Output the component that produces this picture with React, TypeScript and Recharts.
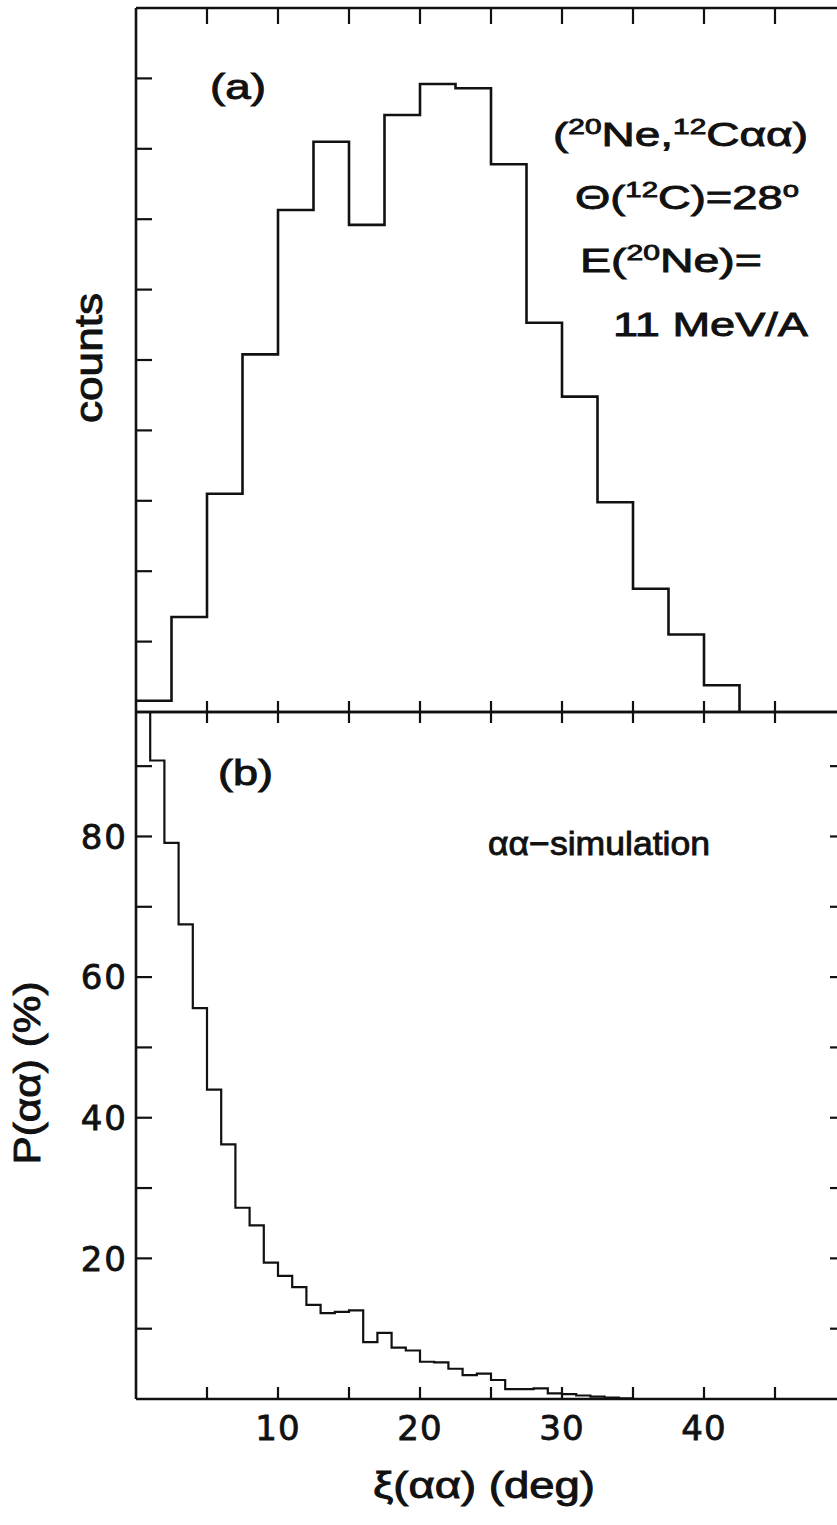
import React from "react";
import { LineChart, Line, XAxis, YAxis } from "recharts";

// (a) coincidence counts, 2.5 deg bins (arbitrary units, one unit per y tick)
const binStartA = [0, 2.5, 5, 7.5, 10, 12.5, 15, 17.5, 20, 22.5, 25, 27.5, 30, 32.5, 35, 37.5, 40, 42.5];
const countsA = [0.16, 1.35, 3.1, 5.08, 7.13, 8.1, 6.92, 8.48, 8.92, 8.86, 7.78, 5.53, 4.48, 2.98, 1.75, 1.1, 0.38, 0];

// (b) simulated alpha-alpha probability in %, 1 deg bins
const binStartB = [
  0, 1, 2, 3, 4, 5, 6, 7, 8, 9, 10, 11, 12, 13, 14, 15, 16, 17,
  18, 19, 20, 21, 22, 23, 24, 25, 26, 27, 28, 29, 30, 31, 32, 33, 34, 35,
];
const probB = [
  100, 90.8, 79.1, 67.5, 55.6, 44.0, 36.2, 27.2, 24.7, 19.4, 17.5, 15.9, 13.4, 12.2, 12.4, 12.6, 8.1, 9.4,
  7.3, 6.9, 5.3, 5.2, 4.3, 3.4, 3.6, 2.7, 1.4, 1.4, 1.5, 0.8, 0.7, 0.5, 0.35, 0.2, 0.1, 0,
];

const xTicks = [5, 10, 15, 20, 25, 30, 35, 40, 45];
const xLabelled = [10, 20, 30, 40];
const countTicks = [1, 2, 3, 4, 5, 6, 7, 8, 9];
const probTicks = [10, 20, 30, 40, 50, 60, 70, 80, 90];
const probLabelled = [20, 40, 60, 80];

const dataA = binStartA.map((x, i) => ({ x, v: countsA[i] }));
const dataB = binStartB.map((x, i) => ({ x, v: probB[i] }));

const INK = "#111";
const FONT = "'Liberation Sans', Arial, sans-serif";
const TICK_FONT = "'DejaVu Sans', sans-serif";

const frame = { stroke: INK, strokeWidth: 2.6 };
const tickLine = { stroke: INK, strokeWidth: 2.2 };

// ticks without a label still need a renderer, otherwise the tick lines vanish too
const NoLabel = () => <g />;

const XTickLabel = (props: any) => {
  const { x, y, payload } = props;
  if (!xLabelled.includes(payload.value)) return <g />;
  return (
    <text x={x} y={y} dy="0.73em" textAnchor="middle" fontSize={34} fontFamily={TICK_FONT}
      fill={INK} stroke={INK} strokeWidth={0.8} letterSpacing={1}>
      {payload.value}
    </text>
  );
};

const YTickLabel = (props: any) => {
  const { x, y, payload } = props;
  if (!probLabelled.includes(payload.value)) return <g />;
  return (
    <text x={x} y={y} dy="0.36em" textAnchor="end" fontSize={34} fontFamily={TICK_FONT}
      fill={INK} stroke={INK} strokeWidth={0.8} letterSpacing={2}>
      {payload.value}
    </text>
  );
};

function PanelA() {
  return (
    <LineChart width={860} height={720} data={dataA} margin={{ top: 7, right: 13, bottom: 7, left: 135 }}>
      <XAxis xAxisId="bottom" dataKey="x" type="number" domain={[0, 50]} ticks={xTicks} interval={0}
        height={1} tickSize={-11} tick={NoLabel} axisLine={frame} tickLine={tickLine} />
      <XAxis xAxisId="top" orientation="top" dataKey="x" type="number" domain={[0, 50]} ticks={xTicks} interval={0}
        height={1} tickSize={-16} tick={NoLabel} axisLine={frame} tickLine={tickLine} />
      <YAxis yAxisId="left" type="number" domain={[0, 10]} ticks={countTicks} interval={0}
        width={1} tickSize={-16} tick={NoLabel} axisLine={frame} tickLine={tickLine} />
      <YAxis yAxisId="right" orientation="right" type="number" domain={[0, 10]} ticks={countTicks} interval={0}
        width={1} tickSize={-16} tick={NoLabel} axisLine={frame} tickLine={tickLine} />
      <Line xAxisId="bottom" yAxisId="left" dataKey="v" type="stepAfter" stroke={INK} strokeWidth={2.6}
        dot={false} activeDot={false} isAnimationActive={false} />
    </LineChart>
  );
}

function PanelB() {
  return (
    <LineChart width={860} height={825} data={dataB} margin={{ top: 11, right: 13, bottom: 125, left: 135 }}>
      <XAxis xAxisId="bottom" dataKey="x" type="number" domain={[0, 50]} ticks={xTicks} interval={0}
        height={1} tickSize={-12} tickMargin={28} tick={XTickLabel} axisLine={frame} tickLine={tickLine} />
      <XAxis xAxisId="top" orientation="top" dataKey="x" type="number" domain={[0, 50]} ticks={xTicks} interval={0}
        height={1} tickSize={-11} tick={NoLabel} axisLine={frame} tickLine={tickLine} />
      <YAxis yAxisId="left" type="number" domain={[0, 97.7]} allowDataOverflow ticks={probTicks} interval={0}
        width={1} tickSize={-16} tickMargin={24} tick={YTickLabel} axisLine={frame} tickLine={tickLine} />
      <YAxis yAxisId="right" orientation="right" type="number" domain={[0, 97.7]} allowDataOverflow ticks={probTicks} interval={0}
        width={1} tickSize={-16} tick={NoLabel} axisLine={frame} tickLine={tickLine} />
      <Line xAxisId="bottom" yAxisId="left" dataKey="v" type="stepAfter" stroke={INK} strokeWidth={2.2}
        dot={false} activeDot={false} isAnimationActive={false} />
    </LineChart>
  );
}

// Panel tags, reaction annotation and axis titles
function Annotations() {
  const t = { fontFamily: FONT, fill: INK, stroke: INK, strokeWidth: 0.9 };
  return (
    <svg width={837} height={1525} style={{ position: "absolute", left: 0, top: 0, pointerEvents: "none" }}>
      <text x={210} y={99} fontSize={35} textLength={56} lengthAdjust="spacingAndGlyphs" {...t}>(a)</text>
      <text x={218} y={785} fontSize={35} textLength={55} lengthAdjust="spacingAndGlyphs" {...t}>(b)</text>

      <text x={553} y={146} fontSize={34} textLength={255} lengthAdjust="spacingAndGlyphs" {...t}>
        (<tspan dy={-12} fontSize={22}>20</tspan><tspan dy={12}>Ne,</tspan>
        <tspan dy={-12} fontSize={22}>12</tspan><tspan dy={12}>Cαα)</tspan>
      </text>
      <text x={575} y={209} fontSize={34} textLength={224} lengthAdjust="spacingAndGlyphs" {...t}>
        Θ(<tspan dy={-12} fontSize={22}>12</tspan><tspan dy={12}>C)=28</tspan>
        <tspan dy={-12} fontSize={22}>o</tspan>
      </text>
      <text x={580} y={272} fontSize={34} textLength={182} lengthAdjust="spacingAndGlyphs" {...t}>
        E(<tspan dy={-12} fontSize={22}>20</tspan><tspan dy={12}>Ne)=</tspan>
      </text>
      <text x={613} y={336} fontSize={34} textLength={195} lengthAdjust="spacingAndGlyphs" {...t}>11 MeV/A</text>

      <text x={488} y={855} fontSize={34} textLength={222} lengthAdjust="spacingAndGlyphs" {...t}>αα−simulation</text>

      <text transform="translate(102,358) rotate(-90)" textAnchor="middle" fontSize={38}
        textLength={130} lengthAdjust="spacingAndGlyphs" {...t}>counts</text>
      <text transform="translate(40,1073) rotate(-90)" textAnchor="middle" fontSize={36}
        textLength={183} lengthAdjust="spacingAndGlyphs" {...t}>P(αα) (%)</text>
      <text x={484} y={1498} textAnchor="middle" fontSize={36} textLength={222}
        lengthAdjust="spacingAndGlyphs" {...t}>ξ(αα) (deg)</text>
    </svg>
  );
}

export default function App() {
  return (
    <div style={{ position: "fixed", left: 0, top: 0, width: 837, height: 1525, overflow: "hidden", background: "#fff" }}>
      <div style={{ position: "absolute", left: 0, top: 0 }}>
        <PanelA />
      </div>
      <div style={{ position: "absolute", left: 0, top: 700 }}>
        <PanelB />
      </div>
      <Annotations />
    </div>
  );
}
